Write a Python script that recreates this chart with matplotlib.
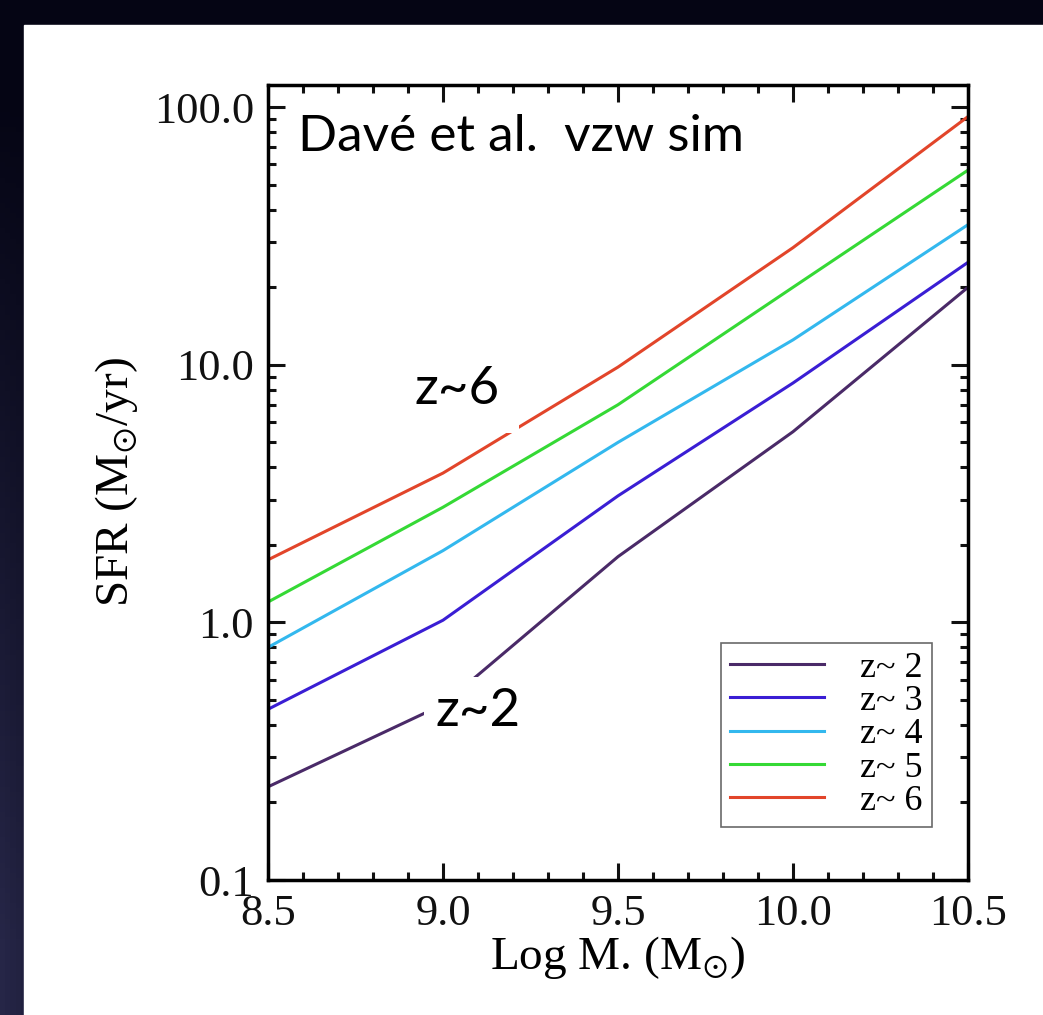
import numpy as np
import matplotlib
matplotlib.use("Agg")
from matplotlib import pyplot as plt
from matplotlib.ticker import MultipleLocator, LogLocator, FixedFormatter, FixedLocator, NullFormatter, FormatStrFormatter

# stellar mass grid and SFR per redshift
logM = [8.5, 9.0, 9.5, 10.0, 10.5]
sfr_z2 = [0.23, 0.48, 1.8, 5.5, 20.0]
sfr_z3 = [0.46, 1.02, 3.1, 8.5, 25.0]
sfr_z4 = [0.80, 1.9, 5.0, 12.5, 35.0]
sfr_z5 = [1.2, 2.8, 7.0, 20.0, 57.0]
sfr_z6 = [1.75, 3.8, 9.8, 28.5, 92.0]

labels = ["z~ 2", "z~ 3", "z~ 4", "z~ 5", "z~ 6"]
colors = ["#4a2a68", "#3a1ed4", "#33b8ee", "#35d935", "#e2452a"]

plt.rcParams["mathtext.fontset"] = "stix"
serif = "Liberation Serif"

fig = plt.figure(figsize=(10.43, 10.15), dpi=100)
fig.patch.set_facecolor("black")

# background: black with a dark navy glow on the left, white slide panel
bg = fig.add_axes([0, 0, 1, 1])
gy, gx = np.mgrid[0:1:200j, 0:1:200j]
glow = np.clip((gy - 0.1) * 1.2, 0, 1) * np.clip(1 - gx * 8, 0, 1)
img = np.zeros((200, 200, 3))
img[..., 0] = 0.02 + 0.13 * glow
img[..., 1] = 0.02 + 0.13 * glow
img[..., 2] = 0.08 + 0.20 * glow
bg.imshow(img[::-1], extent=[0, 1, 0, 1], aspect="auto", origin="lower")
bg.add_patch(plt.Rectangle((24 / 1043, 0), 1, 1 - 25 / 1015, color="white"))
bg.set_xlim(0, 1)
bg.set_ylim(0, 1)
bg.axis("off")

ax = fig.add_axes([268 / 1043, 1 - 880 / 1015, 700 / 1043, 795 / 1015])
for vals, lab, col in zip([sfr_z2, sfr_z3, sfr_z4, sfr_z5, sfr_z6], labels, colors):
    ax.plot(logM, vals, color=col, lw=2.2, label=lab)

ax.set_yscale("log")
ax.set_xlim(8.5, 10.5)
ax.set_ylim(0.1, 122)

ax.xaxis.set_major_locator(FixedLocator([8.5, 9.0, 9.5, 10.0, 10.5]))
ax.xaxis.set_major_formatter(FormatStrFormatter("%.1f"))
ax.xaxis.set_minor_locator(MultipleLocator(0.1))
ax.yaxis.set_major_locator(FixedLocator([0.1, 1, 10, 100]))
ax.yaxis.set_major_formatter(FixedFormatter(["0.1", "1.0", "10.0", "100.0"]))
ax.yaxis.set_minor_locator(LogLocator(base=10, subs=np.arange(2, 10)))
ax.yaxis.set_minor_formatter(NullFormatter())

ax.tick_params(which="both", direction="in", top=True, right=True, width=2.2, colors="#111111")
ax.tick_params(which="major", length=12, labelsize=32, pad=10)
ax.tick_params(which="minor", length=6)
for lab in ax.get_xticklabels() + ax.get_yticklabels():
    lab.set_fontfamily(serif)
for s in ax.spines.values():
    s.set_linewidth(2.5)

ax.set_xlabel(r"Log M. (M$_{\odot}$)", fontsize=34, family=serif, labelpad=0)
ax.set_ylabel(r"SFR (M$_{\odot}$/yr)", fontsize=34, family=serif, labelpad=10)

leg = ax.legend(loc="lower right", prop={"family": serif, "size": 26}, frameon=True,
                fancybox=False, edgecolor="#444444", labelspacing=0.0, handlelength=2.6,
                handletextpad=1.0, borderpad=0.25, borderaxespad=0,
                bbox_to_anchor=(0.9486, 0.0667))
leg.get_frame().set_linewidth(1.2)

ax.text(0.043, 0.935, "Davé et al.  vzw sim", transform=ax.transAxes, fontsize=37,
        family="Lato", va="center", ha="left")
ax.text(9.04, 8.0, "z~6", fontsize=38, family="Lato", va="center", ha="center",
        bbox=dict(facecolor="white", edgecolor="none", pad=14))
ax.text(9.1, 0.45, "z~2", fontsize=38, family="Lato", va="center", ha="center",
        bbox=dict(facecolor="white", edgecolor="none", pad=8))

fig.savefig("out.png", dpi=100, facecolor=fig.get_facecolor())
